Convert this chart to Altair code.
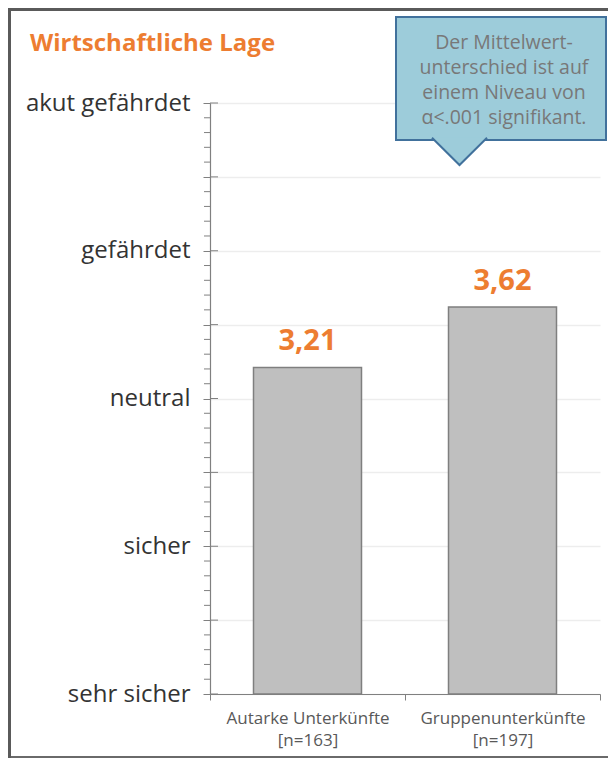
import json
import altair as alt
import pandas as pd

# ---- data ----
categories = ["Autarke Unterkünfte|[n=163]", "Gruppenunterkünfte|[n=197]"]
means = [3.21, 3.62]
mean_labels = ["3,21", "3,62"]
level_names = ["sehr sicher", "sicher", "neutral", "gefährdet", "akut gefährdet"]
major_ticks = [1, 1.5, 2, 2.5, 3, 3.5, 4, 4.5, 5]
minor_ticks = [round(1 + i * 0.1, 1) for i in range(41) if (i % 5) != 0]
title_text = "Wirtschaftliche Lage"
callout_lines = ["Der Mittelwert-", "unterschied ist auf", "einem Niveau von", "α<.001 signifikant."]

FONT = "Open Sans"
ORANGE = "#ED7D31"

bars_df = pd.DataFrame({"cat": categories, "mean": means, "label": mean_labels, "base": [1] * len(means)})
major_df = pd.DataFrame({"v": major_ticks})
minor_df = pd.DataFrame({"v": minor_ticks})
one = alt.Data(values=[{"a": 1}])

yscale = alt.Scale(domain=[1, 5], nice=False, zero=False)
xscale = alt.Scale(paddingInner=0, paddingOuter=0)

label_expr = ("datum.value % 1 == 0 ? " + json.dumps(level_names) + "[datum.value - 1] : ''")

bars = alt.Chart(bars_df).mark_bar(
    width=108, fill="#BFBFBF", stroke="#7F7F7F", strokeWidth=1.5
).encode(
    x=alt.X("cat:N", sort=categories, scale=xscale, title=None,
            axis=alt.Axis(labelExpr="split(datum.label, '|')", labelAngle=0,
                          labelFont=FONT, labelFontSize=17, labelColor="#595959",
                          labelLineHeight=22, labelPadding=10, tickBand="extent",
                          tickSize=6, tickColor="#808080", domainColor="#808080",
                          domainWidth=1.2)),
    y=alt.Y("mean:Q", scale=yscale, title=None,
            axis=alt.Axis(values=major_ticks, labelExpr=label_expr, grid=True,
                          gridColor="#EDEDED", gridWidth=1.5, tickSize=7,
                          tickColor="#808080", domainColor="#808080", domainWidth=1.2,
                          labelFont=FONT, labelFontSize=24, labelColor="#333333",
                          labelPadding=13)),
    y2="base:Q",
)

bar_text = alt.Chart(bars_df).mark_text(
    font=FONT, fontSize=29, fontWeight="bold", color=ORANGE, dy=-26
).encode(
    x=alt.X("cat:N", sort=categories, scale=xscale),
    y=alt.Y("mean:Q", scale=yscale),
    text="label:N",
)

minor = alt.Chart(minor_df).mark_rule(color="#808080", strokeWidth=1).encode(
    y=alt.Y("v:Q", scale=yscale), x=alt.value(-6), x2=alt.value(0)
)
major_inner = alt.Chart(major_df).mark_rule(color="#808080", strokeWidth=1).encode(
    y=alt.Y("v:Q", scale=yscale), x=alt.value(0), x2=alt.value(8)
)

title = alt.Chart(one).mark_text(
    text=title_text, font=FONT, fontSize=24, fontWeight="bold", color=ORANGE,
    align="left", baseline="middle"
).encode(x=alt.value(-180), y=alt.value(-59))

box = alt.Chart(one).mark_rect(fill="#9DCCDA", stroke="#41719C", strokeWidth=2).encode(
    x=alt.value(186), x2=alt.value(396), y=alt.value(-86), y2=alt.value(37)
)
pointer = alt.Chart(one).mark_point(
    shape="M-1,-0.08L0,0.91L1,-0.08", filled=True, fill="#9DCCDA",
    stroke="#41719C", strokeWidth=2, size=3025, opacity=1
).encode(x=alt.value(249.5), y=alt.value(37))
callout = alt.Chart(one).mark_text(
    text=callout_lines, font=FONT, fontSize=19.5, color="#787878",
    lineHeight=25, align="center", baseline="middle"
).encode(x=alt.value(294), y=alt.value(-60))

frame_left = alt.Chart(one).mark_rule(color="#5A5A5A", strokeWidth=3).encode(
    x=alt.value(-200.5), y=alt.value(-95), y2=alt.value(655)
)
frame_top = alt.Chart(one).mark_rule(color="#5A5A5A", strokeWidth=3).encode(
    y=alt.value(-93.5), x=alt.value(-202), x2=alt.value(398)
)
frame_bottom = alt.Chart(one).mark_rule(color="#6A6A6A", strokeWidth=2).encode(
    y=alt.value(654), x=alt.value(-199), x2=alt.value(398)
)

chart = alt.layer(
    bars, minor, major_inner, bar_text, title, box, pointer, callout,
    frame_left, frame_top, frame_bottom
).properties(
    width=390, height=591,
    autosize=alt.AutoSizeParams(type="none"),
    padding={"left": 202, "top": 95, "right": 8, "bottom": 64},
    background="white",
).configure_view(stroke=None)

chart.save("out.html", embed_options={"renderer": "svg", "actions": False})
